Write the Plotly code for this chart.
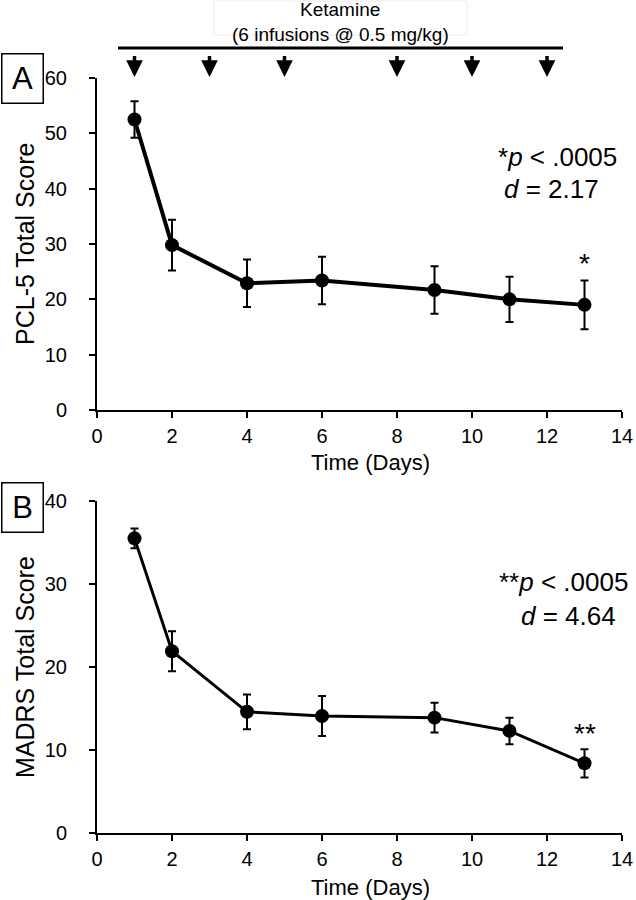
import plotly.graph_objects as go

# ---- data ----
days = [1, 2, 4, 6, 9, 11, 13]
pcl5_mean = [52.5, 29.8, 22.9, 23.4, 21.7, 20.0, 19.0]
pcl5_err = [3.3, 4.6, 4.3, 4.3, 4.3, 4.1, 4.4]
madrs_mean = [35.5, 21.9, 14.6, 14.1, 13.9, 12.3, 8.4]
madrs_err = [1.2, 2.4, 2.1, 2.4, 1.8, 1.6, 1.7]
infusion_days = [1, 3, 5, 8, 10, 12]
x_ticks = [0, 2, 4, 6, 8, 10, 12, 14]
pcl5_ticks = [0, 10, 20, 30, 40, 50, 60]
madrs_ticks = [0, 10, 20, 30, 40]

W, H = 636, 900
FONT = "Liberation Sans, Arial, sans-serif"


def px(v):
    return v / W


def py(v):
    return 1 - v / H


fig = go.Figure()

fig.add_trace(go.Scatter(
    x=days, y=pcl5_mean, mode="lines+markers",
    line=dict(color="black", width=4),
    marker=dict(color="black", size=14),
    error_y=dict(type="data", array=pcl5_err, visible=True,
                 color="black", thickness=2, width=4),
    xaxis="x", yaxis="y", showlegend=False, cliponaxis=False,
))
fig.add_trace(go.Scatter(
    x=days, y=madrs_mean, mode="lines+markers",
    line=dict(color="black", width=3),
    marker=dict(color="black", size=14),
    error_y=dict(type="data", array=madrs_err, visible=True,
                 color="black", thickness=2, width=4),
    xaxis="x2", yaxis="y2", showlegend=False, cliponaxis=False,
))

xdom = [px(97), px(622)]
axis_common = dict(
    showline=True, linecolor="black", linewidth=2,
    ticks="outside", ticklen=6, tickwidth=2, tickcolor="black",
    showgrid=False, zeroline=False, automargin=False,
    tickfont=dict(family=FONT, size=20, color="black"),
)

fig.update_layout(
    template="none",
    width=W, height=H,
    margin=dict(l=0, r=0, t=0, b=0, pad=0, autoexpand=False),
    paper_bgcolor="white", plot_bgcolor="white",
    font=dict(family=FONT, color="black"),
    hovermode=False,
    xaxis=dict(domain=xdom, range=[0, 14], tickvals=x_ticks, anchor="y",
               ticklabelstandoff=1, **axis_common),
    yaxis=dict(domain=[py(410), py(78)], range=[0, 60], tickvals=pcl5_ticks,
               anchor="x", ticklabelstandoff=18, **axis_common),
    xaxis2=dict(domain=xdom, range=[0, 14], tickvals=x_ticks, anchor="y2",
                ticklabelstandoff=1, **axis_common),
    yaxis2=dict(domain=[py(833), py(501)], range=[0, 40], tickvals=madrs_ticks,
                anchor="x2", ticklabelstandoff=18, **axis_common),
)


def txt(text, x, y, size, **kw):
    d = dict(text=text, x=px(x), y=py(y), xref="paper", yref="paper",
             xanchor="center", yanchor="middle", showarrow=False,
             font=dict(size=size, family=FONT, color="black"))
    d.update(kw)
    return d


ann = []
# axis titles
ann.append(txt("Time (Days)", 370, 462, 22))
ann.append(txt("Time (Days)", 370, 887, 22))
ann.append(txt("PCL-5 Total Score", 25, 244, 25, textangle=-90))
ann.append(txt("MADRS Total Score", 25, 667, 25, textangle=-90))
# panel labels
ann.append(txt("A", 22, 78, 31, bordercolor="black", borderwidth=1.5,
               width=38, height=46, borderpad=1, bgcolor="white"))
ann.append(txt("B", 22, 507, 31, bordercolor="black", borderwidth=1.5,
               width=38, height=46, borderpad=1, bgcolor="white"))
# header
ann.append(txt("Ketamine", 340, 10, 19))
ann.append(txt("(6 infusions @ 0.5 mg/kg)", 340, 34, 19))
# arrows for infusions
for d in infusion_days:
    ann.append(dict(x=d, y=py(77), xref="x", yref="paper", ax=0, ay=-23, text=" ",
                    font=dict(size=1), showarrow=True, arrowhead=2,
                    arrowsize=0.95, arrowwidth=3.5, arrowcolor="black"))
# stats text
ann.append(txt("*<i>p</i> < .0005", 557, 157, 26))
ann.append(txt("<i>d</i> = 2.17", 551, 189, 26))
ann.append(dict(text="*", x=13, y=26.5, xref="x", yref="y", showarrow=False,
                xanchor="center", yanchor="middle", font=dict(size=28)))
ann.append(txt("**<i>p</i> < .0005", 563, 582, 26))
ann.append(txt("<i>d</i> = 4.64", 568, 616, 26))
ann.append(dict(text="**", x=13, y=12.0, xref="x2", yref="y2", showarrow=False,
                xanchor="center", yanchor="middle", font=dict(size=28)))
fig.update_layout(annotations=ann)

# header line and faint box
fig.add_shape(type="line", xref="paper", yref="paper",
              x0=px(118), x1=px(563), y0=py(48), y1=py(48),
              line=dict(color="black", width=3))
fig.add_shape(type="rect", xref="paper", yref="paper",
              x0=px(214), x1=px(467), y0=py(35), y1=py(1),
              line=dict(color="#ececec", width=1), layer="below")

fig.write_html("out.html", config={"displayModeBar": False, "staticPlot": True},
               post_script="document.body.style.margin='0';document.body.style.padding='0';")
